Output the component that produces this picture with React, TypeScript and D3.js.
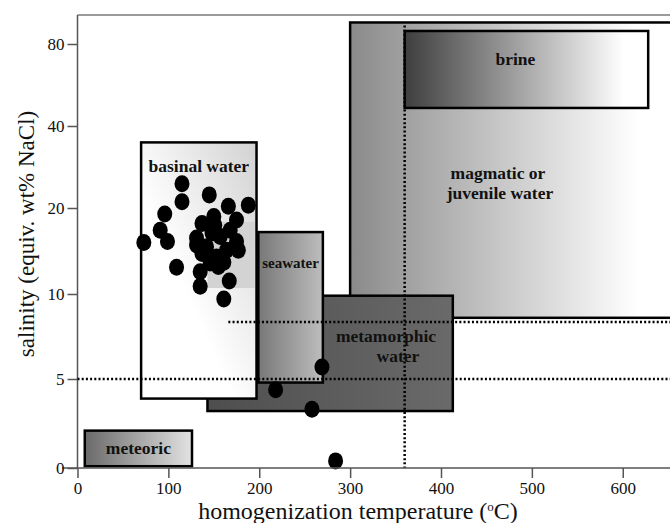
import React from "react";
import * as d3 from "d3";

// axis ticks
const xTicks = [0, 100, 200, 300, 400, 500, 600];
const yTicks = [0, 5, 10, 20, 40, 80];

// fluid source fields (temperature range, salinity range)
const fieldNames = ["magmatic", "metamorphic", "seawater", "basinal", "meteoric", "brine"];
const fieldTemp = [[300, 660], [143, 413], [199, 270], [70, 197], [8, 126], [360, 628]];
const fieldSal = [[8.6, 101], [3.2, 9.9], [4.8, 17.2], [3.9, 36], [0.1, 2.1], [48.8, 92.7]];
const fieldLabels = [
    ["magmatic or", "juvenile water"],
    ["metamorphic", "water"],
    ["seawater"],
    ["basinal water"],
    ["meteoric"],
    ["brine"],
];

// shaded overlap inside basinal field
const shadeTemp = [143, 195];
const shadeSal = [10.7, 18.4];

// dotted guide lines
const guideTemp = 360;
const guideSal = [5, 8.35];
const guideSalStart = [0, 166];

// fluid inclusions
const inclTemp = [
    115, 115, 145, 166, 188, 96, 91, 99, 73, 109, 135, 135, 167, 161,
    137, 150, 175, 131, 168, 142, 175, 153, 137, 164, 146, 155, 131, 157, 148, 177, 151, 161,
    269, 218, 258, 284,
];
const inclSal = [
    25.9, 21.5, 23.2, 20.4, 20.7, 19.3, 17.4, 16.1, 16.0, 13.1, 12.6, 10.9, 11.5, 9.7,
    18.2, 19.0, 18.6, 16.5, 17.4, 15.5, 16.1, 14.3, 14.7, 15.1, 13.6, 13.2, 15.7, 16.7, 17.1, 15.1, 18.0, 13.7,
    5.7, 4.4, 3.3, 0.4,
];

const gradients = {
    magmatic: { x2: 1, y2: 0, stops: [[0, "#8a8a8a"], [0.88, "#ffffff"]] },
    metamorphic: { x2: 1, y2: 0, stops: [[0, "#4e4e4e"], [1, "#6a6a6a"]] },
    seawater: { x2: 1, y2: 0, stops: [[0, "#787878"], [1, "#bdbdbd"]] },
    basinal: { x1: 1, y1: 0, x2: 0, y2: 1, stops: [[0, "#d2d2d2"], [0.6, "#ffffff"]] },
    meteoric: { x2: 1, y2: 0, stops: [[0, "#6a6a6a"], [1, "#e2e2e2"]] },
    brine: { x2: 1, y2: 0, stops: [[0, "#3e3e3e"], [0.9, "#ffffff"]] },
};

export default function App() {
    const ref = React.useRef(null);

    React.useEffect(() => {
        document.body.style.margin = "0";
        drawChart();
    });

    function drawChart() {
        const width = 670;
        const height = 523;
        const font = "'Liberation Serif', 'Times New Roman', serif";

        const svg = d3.select(ref.current);
        svg.selectAll("*").remove();
        svg.attr("width", width).attr("height", height);

        const x = d3.scaleLinear().domain([0, 652]).range([77.5, 670]);
        // salinity axis is stretched: 0-5 then doubling steps
        const y = d3
            .scaleLinear()
            .domain([0, 5, 10, 20, 40, 80, 160])
            .range([468, 379, 294, 208, 126, 44, -38]);

        const defs = svg.append("defs");
        Object.keys(gradients).forEach((k) => {
            const g = gradients[k];
            const lg = defs
                .append("linearGradient")
                .attr("id", "grad-" + k)
                .attr("x1", g.x1 || 0)
                .attr("y1", g.y1 || 0)
                .attr("x2", g.x2)
                .attr("y2", g.y2);
            g.stops.forEach((s) => {
                lg.append("stop").attr("offset", s[0]).attr("stop-color", s[1]);
            });
        });

        // frame
        svg.append("line")
            .attr("x1", x(0))
            .attr("x2", width)
            .attr("y1", 15)
            .attr("y2", 15)
            .attr("stroke", "#7a7a7a")
            .attr("stroke-width", 1.5);
        svg.append("line")
            .attr("x1", x(0))
            .attr("x2", x(0))
            .attr("y1", 15)
            .attr("y2", y(0))
            .attr("stroke", "#555")
            .attr("stroke-width", 1.5);

        // fields
        const fields = svg.append("g");
        fieldNames.forEach((name, i) => {
            const t = fieldTemp[i];
            const s = fieldSal[i];
            fields
                .append("rect")
                .attr("x", x(t[0]))
                .attr("y", y(s[1]))
                .attr("width", x(t[1]) - x(t[0]))
                .attr("height", y(s[0]) - y(s[1]))
                .attr("fill", `url(#grad-${name})`)
                .attr("stroke", "#000")
                .attr("stroke-width", 2.5);
            if (name === "basinal") {
                fields
                    .append("rect")
                    .attr("x", x(shadeTemp[0]))
                    .attr("y", y(shadeSal[1]))
                    .attr("width", x(shadeTemp[1]) - x(shadeTemp[0]))
                    .attr("height", y(shadeSal[0]) - y(shadeSal[1]))
                    .attr("fill", "#d3d3d3");
            }
        });

        // dotted guides
        const dotted = svg.append("g")
            .attr("stroke", "#000")
            .attr("stroke-width", 2.5)
            .attr("stroke-dasharray", "2,2.2");
        guideSal.forEach((s, i) => {
            dotted.append("line")
                .attr("x1", x(guideSalStart[i]))
                .attr("x2", width)
                .attr("y1", y(s))
                .attr("y2", y(s));
        });
        dotted.append("line")
            .attr("x1", x(guideTemp))
            .attr("x2", x(guideTemp))
            .attr("y1", y(98))
            .attr("y2", y(0));

        // field labels
        const labelPos = {
            magmatic: (b) => [[498, b.top + 157], [500, b.top + 177]],
            metamorphic: (b) => [[386, b.top + 46], [398, b.top + 66]],
            seawater: (b) => [[b.cx, b.top + 36]],
            basinal: (b) => [[b.cx, b.top + 30]],
            meteoric: (b) => [[b.cx, b.cy + 6]],
            brine: (b) => [[b.cx - 11, b.top + 34]],
        };
        fieldNames.forEach((name, i) => {
            const t = fieldTemp[i];
            const s = fieldSal[i];
            const b = {
                top: y(s[1]),
                cx: (x(t[0]) + Math.min(x(t[1]), width)) / 2,
                cy: (y(s[0]) + y(s[1])) / 2,
            };
            const pos = labelPos[name](b);
            fieldLabels[i].forEach((txt, j) => {
                svg.append("text")
                    .attr("x", pos[j][0])
                    .attr("y", pos[j][1])
                    .attr("text-anchor", "middle")
                    .attr("font-family", font)
                    .attr("font-weight", "bold")
                    .attr("font-size", name === "seawater" ? 15 : 17.5)
                    .attr("fill", "#111")
                    .text(txt);
            });
        });

        // inclusions
        svg.append("g")
            .selectAll("ellipse")
            .data(inclTemp)
            .enter()
            .append("ellipse")
            .attr("cx", (d) => x(d))
            .attr("cy", (d, i) => y(inclSal[i]))
            .attr("rx", 7.5)
            .attr("ry", 8.5)
            .attr("fill", "#000");

        // x axis
        const xAxis = svg.append("g")
            .attr("transform", `translate(0,${y(0)})`)
            .call(d3.axisBottom(x).tickValues(xTicks).tickSize(10).tickPadding(4).tickSizeOuter(0));
        xAxis.select(".domain").remove();
        xAxis.append("line")
            .attr("x1", 62)
            .attr("x2", width)
            .attr("stroke", "#555")
            .attr("stroke-width", 1.5);
        xAxis.selectAll(".tick line").attr("stroke", "#555").attr("stroke-width", 1.5);
        xAxis.selectAll(".tick text")
            .attr("font-family", font)
            .attr("font-size", 17)
            .attr("fill", "#111");

        // y axis
        const yAxis = svg.append("g")
            .attr("transform", `translate(${x(0)},0)`)
            .call(d3.axisLeft(y).tickValues(yTicks).tickSize(10).tickPadding(3).tickSizeOuter(0));
        yAxis.select(".domain").remove();
        yAxis.selectAll(".tick line").attr("stroke", "#555").attr("stroke-width", 1.5);
        yAxis.selectAll(".tick text")
            .attr("font-family", font)
            .attr("font-size", 17)
            .attr("fill", "#111");

        // axis titles
        const xTitle = svg.append("text")
            .attr("x", 358)
            .attr("y", 519)
            .attr("text-anchor", "middle")
            .attr("font-family", font)
            .attr("font-size", 24)
            .attr("fill", "#111");
        xTitle.append("tspan").text("homogenization temperature (");
        xTitle.append("tspan").attr("dy", -8).attr("font-size", 13).text("o");
        xTitle.append("tspan").attr("dy", 8).text("C)");

        svg.append("text")
            .attr("transform", "translate(34,234) rotate(-90)")
            .attr("text-anchor", "middle")
            .attr("font-family", font)
            .attr("font-size", 23)
            .attr("fill", "#111")
            .text("salinity (equiv. wt% NaCl)");
    }

    return <svg ref={ref} style={{ display: "block" }} />;
}
